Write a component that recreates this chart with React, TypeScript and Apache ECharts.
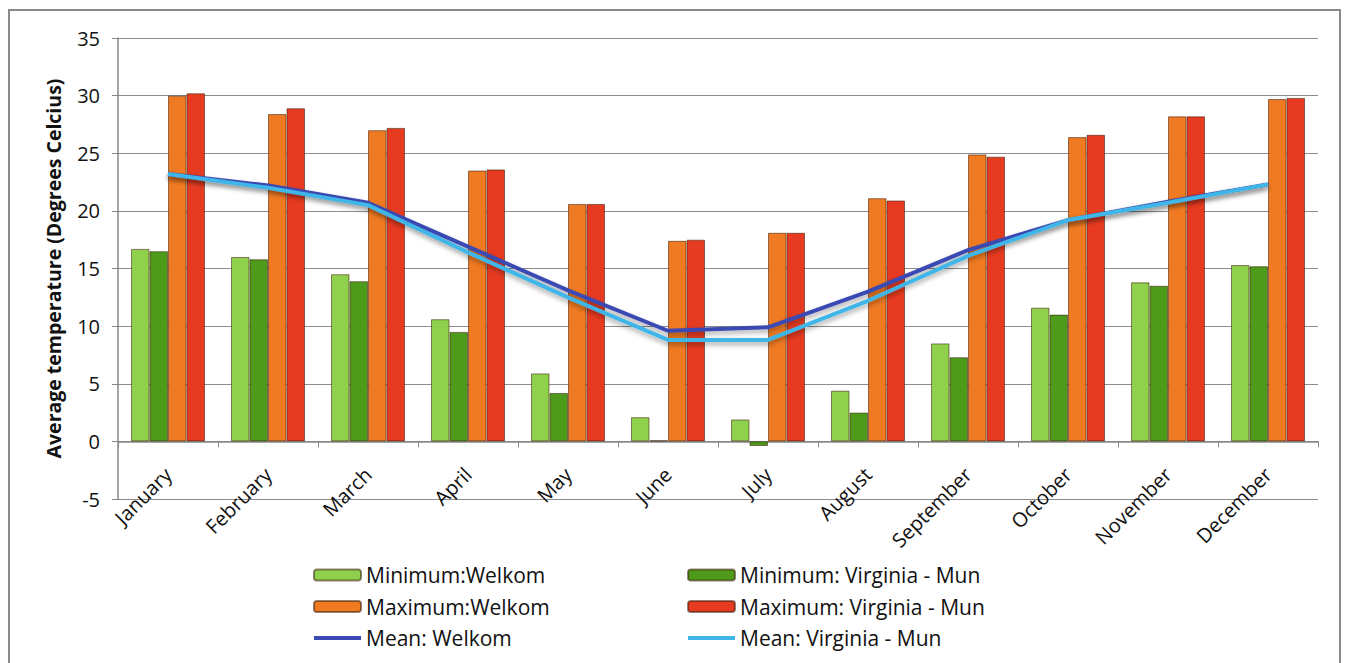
import React, { useEffect, useRef } from "react";
import * as echarts from "echarts";

const months = ["January", "February", "March", "April", "May", "June", "July", "August", "September", "October", "November", "December"];
const minWelkom = [16.7, 16.0, 14.5, 10.6, 5.9, 2.1, 1.9, 4.4, 8.5, 11.6, 13.8, 15.3];
const minVirginia = [16.5, 15.8, 13.9, 9.5, 4.2, 0.1, -0.4, 2.5, 7.3, 11.0, 13.5, 15.2];
const maxWelkom = [30.0, 28.4, 27.0, 23.5, 20.6, 17.4, 18.1, 21.1, 24.9, 26.4, 28.2, 29.7];
const maxVirginia = [30.2, 28.9, 27.2, 23.6, 20.6, 17.5, 18.1, 20.9, 24.7, 26.6, 28.2, 29.8];
const meanWelkom = [23.2, 22.2, 20.7, 16.9, 13.1, 9.6, 9.9, 13.0, 16.6, 19.2, 20.8, 22.3];
const meanVirginia = [23.2, 22.0, 20.5, 16.4, 12.5, 8.8, 8.8, 12.2, 16.1, 19.2, 20.7, 22.3];
const yTicks = { min: -5, max: 35, interval: 5 };

const FONT = "Open Sans";
const LINE_ICON = "path://M0,0L48,0L48,4L0,4Z";

export default function App() {
  const ref = useRef<HTMLDivElement>(null);
  useEffect(() => {
    if (!ref.current) return;
    const chart = echarts.init(ref.current, null, { renderer: "svg" });
    const barBorder = (c: string) => ({ color: c, borderColor: "rgba(60,30,10,0.55)", borderWidth: 1 });
    const legendText = { fontFamily: FONT, fontSize: 21, color: "#111", lineHeight: 22 };
    const legendCommon = {
      orient: "vertical",
      top: 564,
      padding: 0,
      itemWidth: 47,
      itemHeight: 11,
      itemGap: 9.5,
      textStyle: legendText,
    };
    chart.setOption({
      animation: false,
      backgroundColor: "#fff",
      textStyle: { fontFamily: FONT },
      graphic: [
        {
          type: "rect",
          shape: { x: 9, y: 10, width: 1331, height: 670 },
          style: { fill: "none", stroke: "#8a8a8a", lineWidth: 2 },
          silent: true,
        },
      ],
      grid: { left: 118, right: 29, top: 38, bottom: 164 },
      legend: [
        {
          ...legendCommon,
          left: 313,
          data: [
            { name: "Minimum:Welkom" },
            { name: "Maximum:Welkom" },
            { name: "Mean: Welkom", icon: LINE_ICON },
          ],
        },
        {
          ...legendCommon,
          left: 687,
          data: [
            { name: "Minimum: Virginia - Mun" },
            { name: "Maximum: Virginia - Mun" },
            { name: "Mean: Virginia - Mun", icon: LINE_ICON },
          ],
        },
      ],
      xAxis: {
        type: "category",
        data: months,
        boundaryGap: true,
        axisLine: { onZero: true, lineStyle: { color: "#888", width: 1.5 } },
        axisTick: { show: true, length: 6, interval: 0, lineStyle: { color: "#888" } },
        axisLabel: { rotate: 45, interval: 0, fontSize: 20, color: "#111", fontFamily: FONT, margin: -28 },
        splitLine: { show: false },
      },
      yAxis: {
        type: "value",
        min: yTicks.min,
        max: yTicks.max,
        interval: yTicks.interval,
        name: "Average temperature (Degrees Celcius)",
        nameLocation: "middle",
        nameGap: 55,
        nameTextStyle: { fontSize: 19.5, fontWeight: "bold", color: "#111", fontFamily: FONT },
        axisLine: { show: true, lineStyle: { color: "#888", width: 1.5 } },
        axisTick: { show: true, length: 6, lineStyle: { color: "#888" } },
        axisLabel: { fontSize: 20, color: "#111", fontFamily: FONT, margin: 18 },
        splitLine: { show: true, lineStyle: { color: "#8c8c8c", width: 1.2 } },
      },
      series: [
        { name: "Minimum:Welkom", type: "bar", data: minWelkom, itemStyle: barBorder("#8FD14C"), barGap: "0%", barCategoryGap: "26%" },
        { name: "Minimum: Virginia - Mun", type: "bar", data: minVirginia, itemStyle: barBorder("#4E9A1A") },
        { name: "Maximum:Welkom", type: "bar", data: maxWelkom, itemStyle: barBorder("#F07A22") },
        { name: "Maximum: Virginia - Mun", type: "bar", data: maxVirginia, itemStyle: barBorder("#E63B20") },
        {
          name: "Mean: Welkom",
          type: "line",
          data: meanWelkom,
          symbol: "none",
          z: 5,
          itemStyle: { color: "#3B49B3" },
          lineStyle: { color: "#3B49B3", width: 4, shadowColor: "rgba(0,0,0,0.35)", shadowBlur: 5, shadowOffsetY: 3 },
        },
        {
          name: "Mean: Virginia - Mun",
          type: "line",
          data: meanVirginia,
          symbol: "none",
          z: 6,
          itemStyle: { color: "#3FB5E8" },
          lineStyle: { color: "#3FB5E8", width: 4, shadowColor: "rgba(0,0,0,0.35)", shadowBlur: 5, shadowOffsetY: 3 },
        },
      ],
    });
    return () => chart.dispose();
  }, []);
  return <div ref={ref} style={{ position: "fixed", left: 0, top: 0, width: 1347, height: 663 }} />;
}
